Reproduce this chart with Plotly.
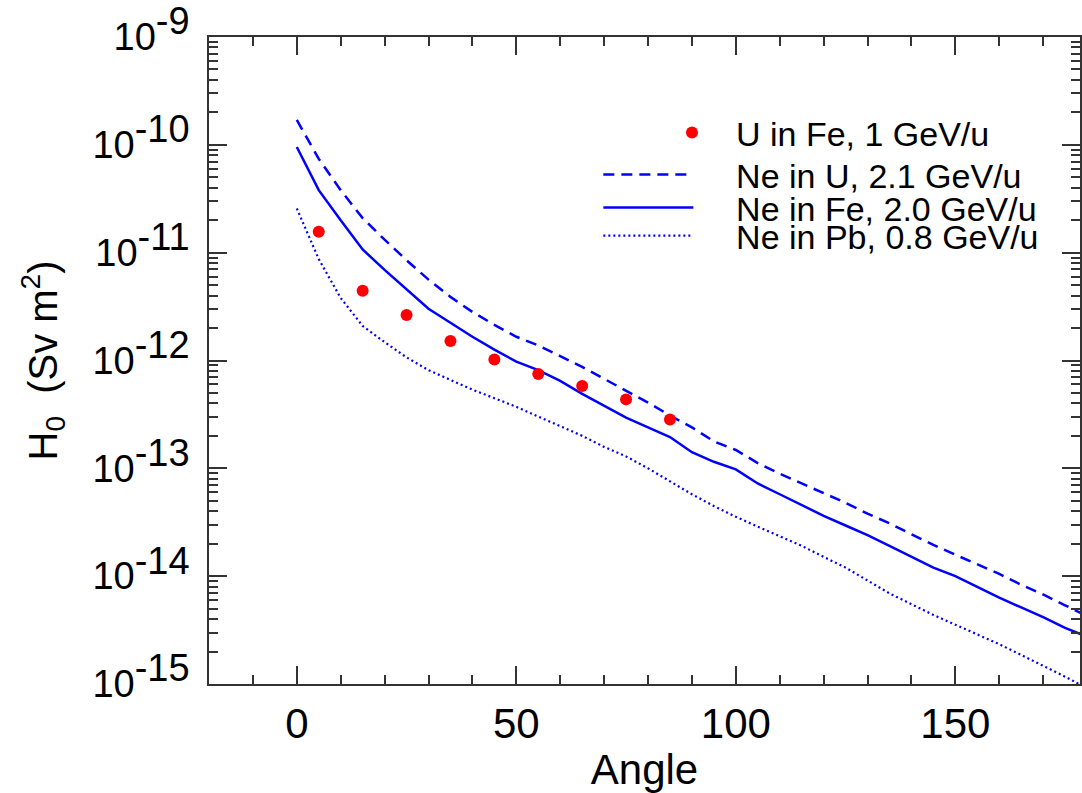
import plotly.graph_objects as go

angles = [0, 5, 10, 15, 20, 25, 30, 35, 40, 45, 50, 55, 60, 65, 70, 75, 80, 85, 90,
          95, 100, 105, 110, 115, 120, 125, 130, 135, 140, 145, 150, 155, 160, 165,
          170, 175, 180]

ne_in_u = [1.70e-10, 7.41e-11, 3.80e-11, 2.09e-11, 1.32e-11, 8.51e-12, 5.62e-12, 3.89e-12,
           2.82e-12, 2.14e-12, 1.66e-12, 1.38e-12, 1.10e-12, 8.71e-13, 6.76e-13, 5.25e-13,
           4.07e-13, 3.09e-13, 2.40e-13, 1.78e-13, 1.48e-13, 1.12e-13, 8.91e-14, 7.24e-14,
           5.89e-14, 4.79e-14, 3.80e-14, 3.09e-14, 2.45e-14, 1.95e-14, 1.58e-14, 1.29e-14,
           1.05e-14, 8.32e-15, 6.76e-15, 5.37e-15, 4.27e-15]

ne_in_fe = [9.55e-11, 3.80e-11, 2.00e-11, 1.07e-11, 6.92e-12, 4.57e-12, 3.02e-12, 2.24e-12,
            1.66e-12, 1.26e-12, 9.77e-13, 8.13e-13, 6.46e-13, 4.90e-13, 3.80e-13, 2.95e-13,
            2.40e-13, 1.95e-13, 1.41e-13, 1.15e-13, 9.77e-14, 7.24e-14, 5.75e-14, 4.57e-14,
            3.63e-14, 2.95e-14, 2.40e-14, 1.91e-14, 1.51e-14, 1.20e-14, 1.00e-14, 7.94e-15,
            6.31e-15, 5.13e-15, 4.17e-15, 3.31e-15, 2.75e-15]

ne_in_pb = [2.57e-11, 8.71e-12, 3.80e-12, 2.09e-12, 1.48e-12, 1.07e-12, 8.13e-13, 6.61e-13,
            5.37e-13, 4.47e-13, 3.72e-13, 3.02e-13, 2.45e-13, 2.00e-13, 1.58e-13, 1.29e-13,
            1.00e-13, 7.59e-14, 5.75e-14, 4.47e-14, 3.55e-14, 2.88e-14, 2.34e-14, 1.91e-14,
            1.51e-14, 1.20e-14, 9.12e-15, 6.92e-15, 5.50e-15, 4.37e-15, 3.55e-15, 2.88e-15,
            2.34e-15, 1.86e-15, 1.48e-15, 1.17e-15, 9.12e-16]

u_angles = [5, 15, 25, 35, 45, 55, 65, 75, 85]
u_in_fe = [1.56e-11, 4.44e-12, 2.64e-12, 1.52e-12, 1.02e-12, 7.48e-13, 5.79e-13, 4.36e-13, 2.84e-13]

y_tickvals = [1e-15, 1e-14, 1e-13, 1e-12, 1e-11, 1e-10, 1e-9]
y_exponents = ["-15", "-14", "-13", "-12", "-11", "-10", "-9"]
x_tickvals = [0, 50, 100, 150]

FONT = "Liberation Sans, Arial, sans-serif"
BLUE = "#0000ff"
PAD = "\u00a0" * 4
NB = "\u00a0"

y_ticktext = [NB * 2 + '10<sup><span style="font-size:38px">%s</span></sup>' % e for e in y_exponents]

fig = go.Figure()
fig.add_trace(go.Scatter(x=angles, y=ne_in_u, mode="lines", name=PAD + "Ne in U, 2.1 GeV/u",
                         line=dict(color=BLUE, width=2.5, dash="11px,7px"), legend="legend2"))
fig.add_trace(go.Scatter(x=angles, y=ne_in_fe, mode="lines", name=PAD + "Ne in Fe, 2.0 GeV/u",
                         line=dict(color=BLUE, width=2.5), legend="legend3"))
fig.add_trace(go.Scatter(x=angles, y=ne_in_pb, mode="lines", name=PAD + "Ne in Pb, 0.8 GeV/u",
                         line=dict(color=BLUE, width=2.2, dash="2px,3px"), legend="legend4"))
fig.add_trace(go.Scatter(x=u_angles, y=u_in_fe, mode="markers", name="U in Fe, 1 GeV/u",
                         marker=dict(color="#ff0000", size=12, line=dict(width=0)), legend="legend"))

axis_common = dict(
    showline=True, linecolor="#333333", linewidth=1.5, mirror="ticks",
    ticks="inside", tickcolor="#333333", tickwidth=1.5, ticklen=18,
    showgrid=False, zeroline=False,
)

fig.update_xaxes(
    **axis_common,
    range=[-20, 178.4],
    tickmode="array", tickvals=x_tickvals,
    tickfont=dict(family=FONT, size=42, color="black"),
    ticklabelstandoff=2,
    minor=dict(ticks="inside", ticklen=9, tickwidth=1.5, tickcolor="#333333", dtick=10, tick0=0),
    title=dict(text="Angle", font=dict(family=FONT, size=42, color="black"), standoff=11),
)
fig.update_yaxes(
    **axis_common,
    type="log",
    range=[-15, -9],
    tickmode="array", tickvals=y_tickvals, ticktext=y_ticktext,
    tickfont=dict(family=FONT, size=38, color="black"),
    ticklabelstandoff=10,
    minor=dict(ticks="inside", ticklen=9, tickwidth=1.5, tickcolor="#333333", dtick="D1"),
    title=dict(text="H<sub>0</sub>  (Sv m<sup>2</sup>)", font=dict(family=FONT, size=40, color="black"), standoff=0),
)


def leg(x, y, w):
    return dict(x=x, y=y, xanchor="left", yanchor="middle",
                bgcolor="rgba(0,0,0,0)", borderwidth=0,
                font=dict(family=FONT, size=34, color="black"),
                itemwidth=w)


fig.update_layout(
    width=1082, height=793,
    margin=dict(l=209, r=0, t=37, b=109),
    plot_bgcolor="white", paper_bgcolor="white",
    showlegend=True,
    legend=leg(0.5040, 0.8516, 78),
    legend2=leg(0.447, 0.7867, 90),
    legend3=leg(0.447, 0.7357, 90),
    legend4=leg(0.447, 0.6925, 90),
)

fig.write_html("out.html")
